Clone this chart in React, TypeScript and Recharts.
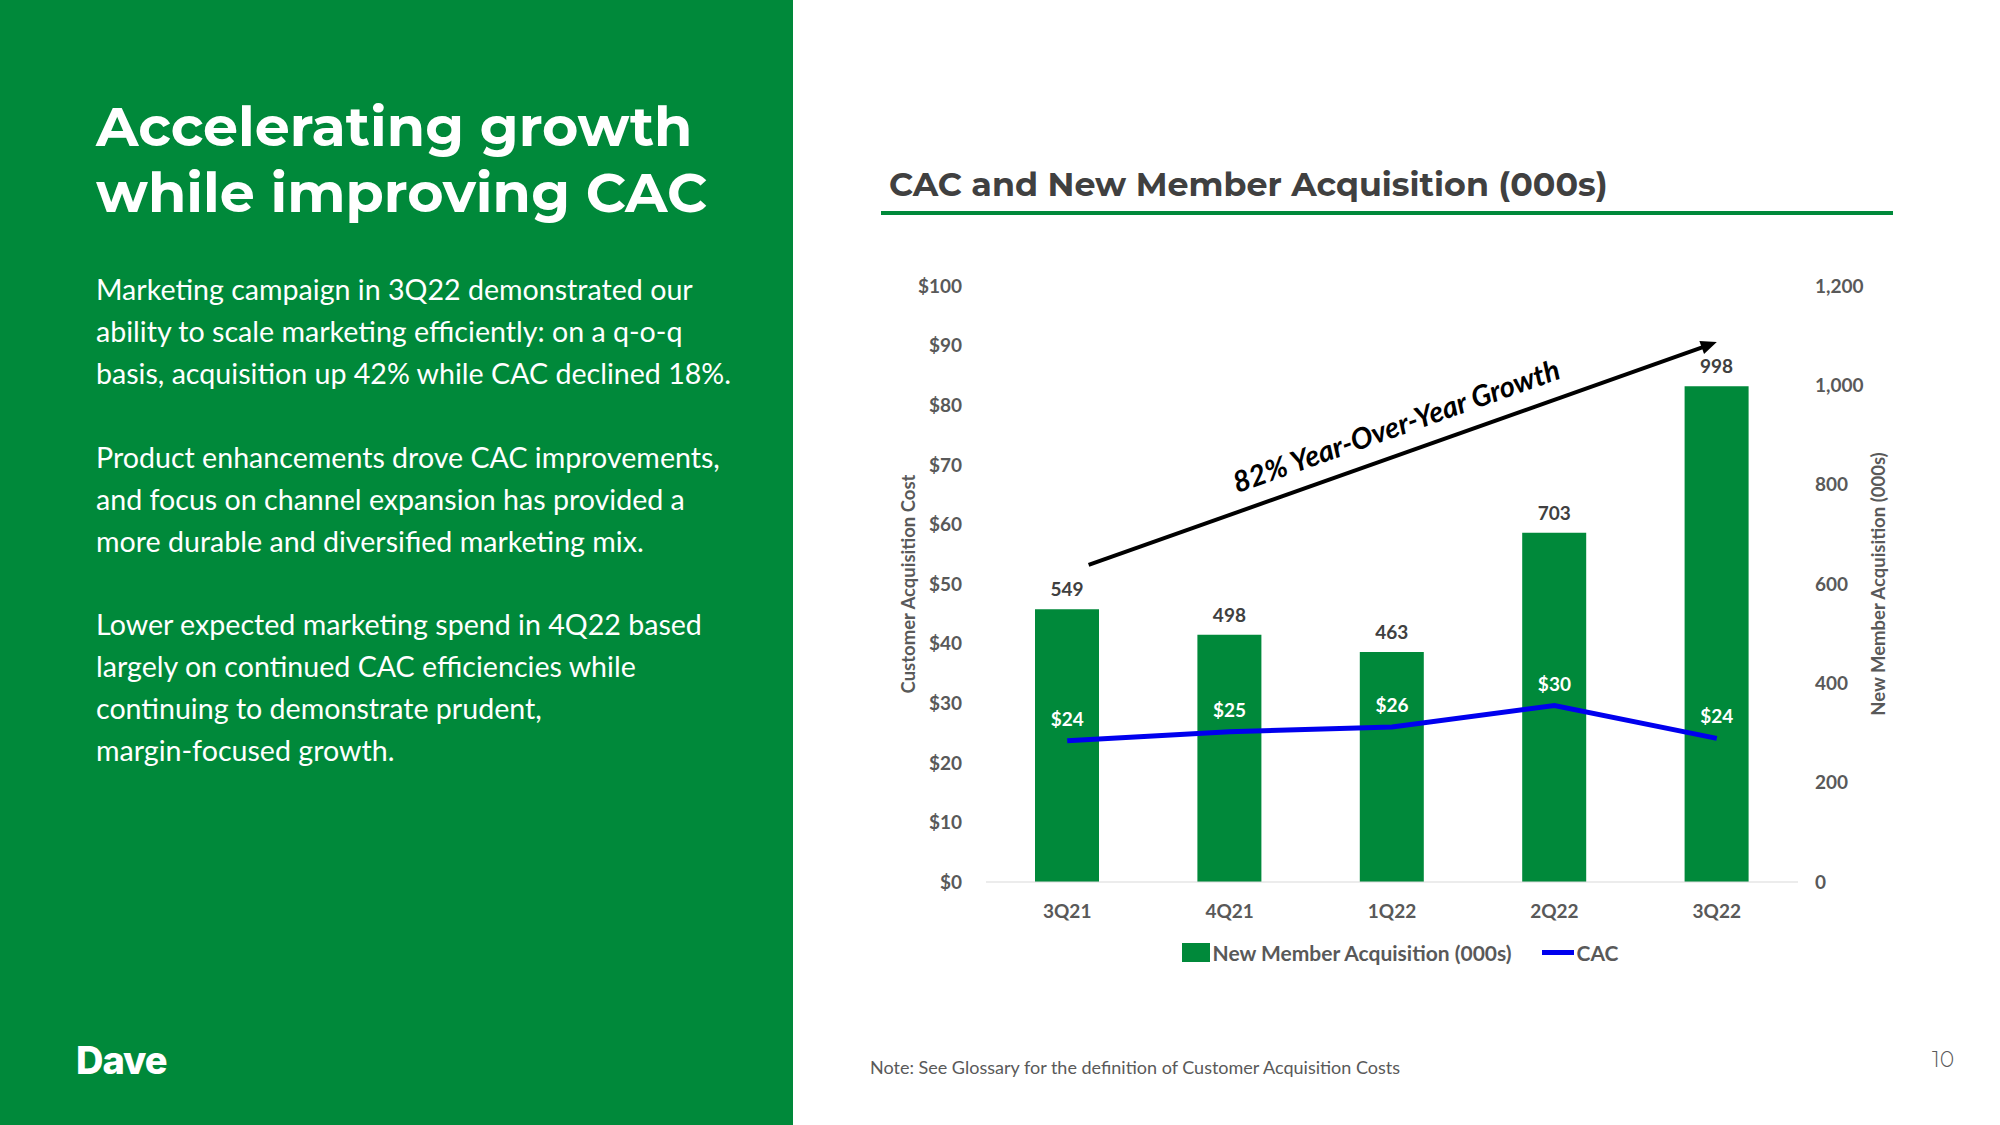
import React from 'react'
import { ComposedChart, Bar, Line, XAxis, YAxis, LabelList, Legend, ReferenceLine } from 'recharts'

// Chart data
const quarters = ['3Q21', '4Q21', '1Q22', '2Q22', '3Q22']
const newMembers = [549, 498, 463, 703, 998]
const cacValues = [23.7, 25.2, 26.0, 29.6, 24.1]
const cacTicks = [0, 10, 20, 30, 40, 50, 60, 70, 80, 90, 100]
const memberTicks = [0, 200, 400, 600, 800, 1000, 1200]
const growthFrom = 623
const growthTo = 1087
const growthLabel = '82% Year-Over-Year Growth'

const GREEN = '#00893A'
const BLUE = '#0000EE'
const GRAY = '#595959'
const DARK = '#404040'
const FONT = 'Lato, "Noto Sans", sans-serif'

const data = quarters.map((q, i) => ({ quarter: q, members: newMembers[i], cac: cacValues[i] }))

function GrowthArrow(props: any) {
    const { x1, y1, x2, y2 } = props
    if (x1 == null || x2 == null) return null
    const dx = x2 - x1
    const dy = y2 - y1
    const len = Math.sqrt(dx * dx + dy * dy)
    const ux = dx / len
    const uy = dy / len
    // start slightly to the right of the first category centre
    const sx = x1 + dx * 0.033
    const sy = y1 + dy * 0.033
    const head = 16
    const bx = x2 - ux * head
    const by = y2 - uy * head
    // normal pointing "up" from the line
    const nx = uy
    const ny = -ux
    const mx = (sx + x2) / 2
    const my = (sy + y2) / 2
    const tx = mx + nx * 28 + ux * 3
    const ty = my + ny * 28 + uy * 3
    const angle = (Math.atan2(dy, dx) * 180) / Math.PI
    return (
        <g>
            <line x1={sx} y1={sy} x2={bx + ux * 2} y2={by + uy * 2} stroke="#000" strokeWidth={4} />
            <polygon
                points={`${x2},${y2} ${bx + nx * 7},${by + ny * 7} ${bx - nx * 7},${by - ny * 7}`}
                fill="#000"
            />
            <text
                x={tx}
                y={ty}
                dy="0.35em"
                textAnchor="middle"
                transform={`rotate(${angle}, ${tx}, ${ty})`}
                fontFamily={FONT}
                fontWeight={700}
                fontStyle="italic"
                fontSize={29}
                fill="#000"
            >
                {growthLabel}
            </text>
        </g>
    )
}

function ChartLegend({ payload }: any) {
    // bars first, then the CAC line
    const items = [...(payload || [])].sort((a: any, b: any) => (a.type === 'line' ? 1 : 0) - (b.type === 'line' ? 1 : 0))
    return (
        <div style={{ display: 'flex', justifyContent: 'center', alignItems: 'center', gap: 30, height: 40, fontFamily: FONT, fontSize: 21, fontWeight: 700, color: GRAY }}>
            {items.map((it: any) => (
                <div key={it.value} style={{ display: 'flex', alignItems: 'center' }}>
                    {it.type === 'line' ? (
                        <span style={{ display: 'inline-block', width: 32, height: 5, background: it.color, marginRight: 3 }} />
                    ) : (
                        <span style={{ display: 'inline-block', width: 28, height: 19, background: it.color, marginRight: 3 }} />
                    )}
                    <span>{it.value}</span>
                </div>
            ))}
        </div>
    )
}

function AxisTitle({ viewBox, text, shift }: any) {
    const { x, y, width, height } = viewBox
    const cx = x + width / 2 + shift
    const cy = y + height / 2
    return (
        <text
            x={cx}
            y={cy}
            dy="0.35em"
            textAnchor="middle"
            transform={`rotate(-90, ${cx}, ${cy})`}
            fontFamily={FONT}
            fontWeight={700}
            fontSize={18.5}
            fill={GRAY}
        >
            {text}
        </text>
    )
}

const bodyText: string[][] = [
    [
        'Marketing campaign in 3Q22 demonstrated our',
        'ability to scale marketing efficiently: on a q-o-q',
        'basis, acquisition up 42% while CAC declined 18%.',
    ],
    [
        'Product enhancements drove CAC improvements,',
        'and focus on channel expansion has provided a',
        'more durable and diversified marketing mix.',
    ],
    [
        'Lower expected marketing spend in 4Q22 based',
        'largely on continued CAC efficiencies while',
        'continuing to demonstrate prudent,',
        'margin-focused growth.',
    ],
]

export default function App() {
    const tickStyle = { fill: GRAY, fontSize: 19, fontWeight: 700, fontFamily: FONT }
    return (
        <div style={{ position: 'absolute', left: 0, top: 0, width: 2000, height: 1125, background: '#fff', overflow: 'hidden' }}>
            {/* left green panel */}
            <div style={{ position: 'absolute', left: 0, top: 0, width: 793, height: 1125, background: GREEN, color: '#fff' }}>
                <div style={{ position: 'absolute', left: 96, top: 93, fontFamily: 'Montserrat, Inter, sans-serif', fontWeight: 700, fontSize: 55.5, lineHeight: '66px', whiteSpace: 'nowrap' }}>
                    Accelerating growth
                    <br />
                    while improving CAC
                </div>
                <div style={{ position: 'absolute', left: 96, top: 268, fontFamily: FONT, fontSize: 28.6, lineHeight: '42px', whiteSpace: 'nowrap' }}>
                    {bodyText.map((para, i) => (
                        <div key={i} style={{ marginBottom: 41.5 }}>
                            {para.map((line) => (
                                <div key={line}>{line}</div>
                            ))}
                        </div>
                    ))}
                </div>
                <div style={{ position: 'absolute', left: 76, top: 1037, fontFamily: 'Inter, sans-serif', fontWeight: 800, fontSize: 38, lineHeight: '46px', letterSpacing: -1 }}>
                    Dave
                </div>
            </div>

            {/* chart title */}
            <div style={{ position: 'absolute', left: 889, top: 164, fontFamily: 'Montserrat, Inter, sans-serif', fontWeight: 700, fontSize: 33.3, lineHeight: '40px', color: DARK, whiteSpace: 'nowrap' }}>
                CAC and New Member Acquisition (000s)
            </div>
            <div style={{ position: 'absolute', left: 881, top: 211, width: 1012, height: 4, background: GREEN }} />

            <div style={{ position: 'absolute', left: 880, top: 250 }}>
                <ComposedChart width={1040} height={740} data={data} margin={{ top: 36, right: 0, bottom: 18, left: 0 }}>
                    <XAxis
                        dataKey="quarter"
                        height={50}
                        tick={tickStyle}
                        tickLine={false}
                        axisLine={{ stroke: '#d9d9d9' }}
                        tickMargin={17}
                    />
                    <YAxis
                        yAxisId="left"
                        orientation="left"
                        width={106}
                        domain={[0, 100]}
                        ticks={cacTicks}
                        tickFormatter={(v: number) => `$${v}`}
                        tick={tickStyle}
                        tickLine={false}
                        axisLine={false}
                        tickMargin={18}
                        interval={0}
                        label={{ content: (p: any) => <AxisTitle {...p} text="Customer Acquisition Cost" shift={-24} /> }}
                    />
                    <YAxis
                        yAxisId="right"
                        orientation="right"
                        width={122}
                        domain={[0, 1200]}
                        ticks={memberTicks}
                        tickFormatter={(v: number) => v.toLocaleString('en-US')}
                        tick={{ ...tickStyle, textAnchor: 'start' }}
                        tickLine={false}
                        axisLine={false}
                        tickMargin={11}
                        interval={0}
                        label={{ content: (p: any) => <AxisTitle {...p} text="New Member Acquisition (000s)" shift={20} /> }}
                    />
                    <Bar yAxisId="right" dataKey="members" name="New Member Acquisition (000s)" fill={GREEN} barSize={64} isAnimationActive={false}>
                        <LabelList dataKey="members" position="top" offset={13} fill={DARK} fontSize={19} fontWeight={700} fontFamily={FONT} />
                    </Bar>
                    <Line
                        yAxisId="left"
                        type="linear"
                        dataKey="cac"
                        name="CAC"
                        stroke={BLUE}
                        strokeWidth={5}
                        dot={false}
                        legendType="line"
                        isAnimationActive={false}
                    >
                        <LabelList
                            dataKey="cac"
                            position="top"
                            offset={15}
                            fill="#fff"
                            fontSize={19}
                            fontWeight={700}
                            fontFamily={FONT}
                            formatter={(v: any) => `$${Math.round(Number(v))}`}
                        />
                    </Line>
                    <ReferenceLine
                        yAxisId="right"
                        segment={[{ x: quarters[0], y: growthFrom }, { x: quarters[quarters.length - 1], y: growthTo }]}
                        stroke="#000"
                        ifOverflow="visible"
                        shape={(p: any) => <GrowthArrow {...p} />}
                    />
                    <Legend verticalAlign="bottom" height={40} content={(p: any) => <ChartLegend {...p} />} />
                </ComposedChart>
            </div>

            <div style={{ position: 'absolute', left: 870, top: 1056, fontFamily: FONT, fontSize: 18, color: GRAY, whiteSpace: 'nowrap' }}>
                Note: See Glossary for the definition of Customer Acquisition Costs
            </div>
            <div style={{ position: 'absolute', left: 1932, top: 1046, fontFamily: 'Montserrat, Inter, sans-serif', fontWeight: 300, fontSize: 22, color: GRAY }}>
                10
            </div>
        </div>
    )
}
